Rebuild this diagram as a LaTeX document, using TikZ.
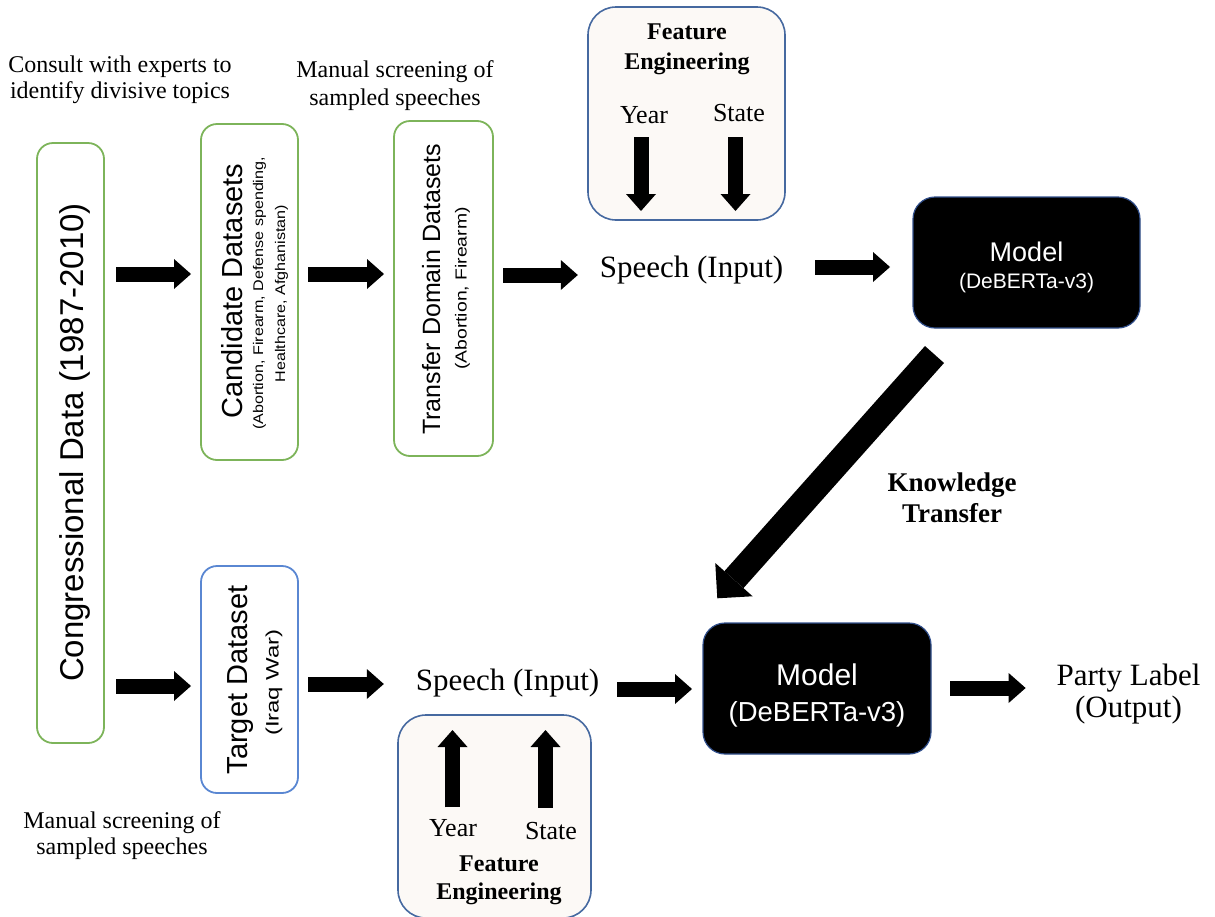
\documentclass[tikz,border=0pt]{standalone}
\usepackage{fontspec}
\setmainfont{Liberation Serif}
\setsansfont{Liberation Sans}
\usetikzlibrary{arrows.meta,calc}
\definecolor{gborder}{RGB}{125,180,90}
\definecolor{bborder}{RGB}{90,135,210}
\definecolor{feborder}{RGB}{70,105,160}
\definecolor{fefill}{RGB}{252,249,246}
\definecolor{mborder}{RGB}{50,80,140}
\begin{document}
\begin{tikzpicture}[x=1pt,y=-1pt,
  gbox/.style={draw=gborder, line width=1.8pt, rounded corners=16pt, inner sep=0pt, outer sep=0pt},
  bbox/.style={draw=bborder, line width=1.8pt, rounded corners=16pt, inner sep=0pt, outer sep=0pt},
  febox/.style={draw=feborder, fill=fefill, line width=1.6pt, rounded corners=28pt, inner sep=0pt, outer sep=0pt},
  mbox/.style={draw=mborder, fill=black, line width=1.2pt, rounded corners=22pt, inner sep=0pt, outer sep=0pt},
  txt/.style={inner sep=0pt, outer sep=0pt},
  rtxt/.style={inner sep=0pt, outer sep=0pt, rotate=90},
  serif24/.style={font=\fontsize{24}{26}\selectfont, align=center},
  hblk/.style={line width=15pt, -{Triangle[length=17pt,width=30pt,line width=0pt]}},
  dblk/.style={line width=25.5pt, -{Triangle[length=25pt,width=50pt,line width=0pt]}}
]
\useasboundingbox (0,0) rectangle (1215,916);

% ---------- boxes ----------
\node[gbox, minimum width=67pt, minimum height=600pt] (cong) at (70.5,443) {};
\node[gbox, minimum width=97pt, minimum height=336pt] (cand) at (249.5,292) {};
\node[gbox, minimum width=99pt, minimum height=335pt] (trans) at (443.5,288.5) {};
\node[bbox, minimum width=97pt, minimum height=227pt] (tgt) at (249.5,679.5) {};
\node[febox, minimum width=197pt, minimum height=213pt] (fetop) at (686.5,113.5) {};
\node[febox, minimum width=193pt, minimum height=203pt] (febot) at (494.5,816.5) {};
\node[mbox, minimum width=227pt, minimum height=131pt] (mtop) at (1026.5,262.5) {};
\node[mbox, minimum width=228pt, minimum height=131pt] (mbot) at (817,688.5) {};

% ---------- rotated texts ----------
\node[rtxt, anchor=base, font=\sffamily\fontsize{33}{40}\selectfont] (congt) at (83,442.5) {Congressional Data (1987-2010)};
\node[rtxt, anchor=base, font=\sffamily\fontsize{29}{34}\selectfont] (candt) at (242,291) {Candidate Datasets};
\node[rtxt, anchor=center, align=center, font=\sffamily\fontsize{14}{22}\selectfont] (cands) at (270.5,293.5)
  {\scalebox{1.15}[1]{(Abortion, Firearm, Defense spending,}\\\scalebox{1.15}[1]{Healthcare, Afghanistan)}};
\node[rtxt, anchor=base, font=\sffamily\fontsize{25}{30}\selectfont] (transt) at (440,289.5) {Transfer Domain Datasets};
\node[rtxt, anchor=base, font=\sffamily\fontsize{16}{20}\selectfont] (transs) at (466.6,288.5) {\scalebox{1.21}[1]{(Abortion, Firearm)}};
\node[rtxt, anchor=base, font=\sffamily\fontsize{29}{34}\selectfont] (tgtt) at (247,680) {Target Dataset};
\node[rtxt, anchor=base, font=\sffamily\fontsize{18}{22}\selectfont] (tgts) at (278.5,682.5) {\scalebox{1.33}[1]{(Iraq War)}};

% ---------- model texts ----------
\node[txt, anchor=base, text=white, font=\sffamily\fontsize{27}{30}\selectfont] (mtopa) at (1026.5,261.7) {Model};
\node[txt, anchor=base, text=white, font=\sffamily\fontsize{21}{24}\selectfont] (mtopb) at (1026.5,288) {(DeBERTa-v3)};
\node[txt, anchor=base, text=white, font=\sffamily\fontsize{30}{34}\selectfont] (mbota) at (817,685) {Model};
\node[txt, anchor=base, text=white, font=\sffamily\fontsize{27.5}{32}\selectfont] (mbotb) at (817,721.7) {(DeBERTa-v3)};

% ---------- serif labels ----------
\node[txt, serif24] (consult) at (120,79.4) {Consult with experts to\\identify divisive topics};
\node[txt, align=center, font=\fontsize{24}{28}\selectfont] (man1) at (395,85.4) {Manual screening of\\sampled speeches};
\node[txt, serif24] (man2) at (122,835.4) {Manual screening of\\sampled speeches};
\node[txt, anchor=base, font=\fontsize{31}{34}\selectfont] (sp1) at (691.5,277) {Speech (Input)};
\node[txt, anchor=base, font=\fontsize{31}{34}\selectfont] (sp2) at (507.5,690.5) {Speech (Input)};
\node[txt, align=center, font=\fontsize{31}{32}\selectfont] (party) at (1128.5,693.8) {Party Label\\(Output)};
\node[txt, align=center, font=\bfseries\fontsize{27}{31}\selectfont] (kt) at (952,498.2) {Knowledge\\Transfer};

% feature engineering texts
\node[txt, align=center, font=\bfseries\fontsize{24}{30}\selectfont] (fet) at (687,49.7) {Feature\\Engineering};
\node[txt, anchor=base, font=\fontsize{26}{30}\selectfont] (yr1) at (644,123) {Year};
\node[txt, anchor=base, font=\fontsize{26}{30}\selectfont] (st1) at (739,121) {State};
\node[txt, align=center, font=\bfseries\fontsize{24}{28}\selectfont] (feb) at (499,880.7) {Feature\\Engineering};
\node[txt, anchor=base, font=\fontsize{26}{30}\selectfont] (yr2) at (453,836.5) {Year};
\node[txt, anchor=base, font=\fontsize{26}{30}\selectfont] (st2) at (551,839) {State};

% ---------- row coordinates ----------
\coordinate (r1) at (0,274);
\coordinate (r3) at (0,275);
\coordinate (r4) at (0,267);
\coordinate (r5) at (0,686);
\coordinate (r6) at (0,684);
\coordinate (r7) at (0,689);
\coordinate (r8) at (0,688);
\coordinate (y1tip) at (641,211);
\coordinate (s1tip) at (735.5,211);
\coordinate (y2tip) at (452.5,730);
\coordinate (s2tip) at (545.5,730);

% ---------- block arrows ----------
\draw[hblk, shorten <=12pt, shorten >=10pt] (cong.east |- r1) -- (cand.west |- r1);
\draw[hblk, shorten <=10pt, shorten >=10pt] (cand.east |- r1) -- (trans.west |- r1);
\draw[hblk, shorten <=10pt, shorten >=22pt] (trans.east |- r3) -- (sp1.west |- r3);
\draw[hblk, shorten <=32pt, shorten >=23pt] (sp1.east |- r4) -- (mtop.west |- r4);
\draw[hblk, shorten <=12pt, shorten >=10pt] (cong.east |- r5) -- (tgt.west |- r5);
\draw[hblk, shorten <=10pt, shorten >=32pt] (tgt.east |- r6) -- (sp2.west |- r6);
\draw[hblk, shorten <=18pt, shorten >=11pt] (sp2.east |- r7) -- (mbot.west |- r7);
\draw[hblk, shorten <=19pt, shorten >=31pt] (mbot.east |- r8) -- (party.west |- r8);

% feature arrows
\draw[hblk, shorten <=14pt] (yr1.south -| y1tip) -- (y1tip);
\draw[hblk, shorten <=16pt] (st1.south -| s1tip) -- (s1tip);
\draw[hblk, shorten <=12pt] (yr2.north -| y2tip) -- (y2tip);
\draw[hblk, shorten <=14pt] (st2.north -| s2tip) -- (s2tip);

% knowledge transfer arrow
\draw[dblk] ($(mtop.south west)+(21.5,26.5)$) -- ($(mbot.north west)+(14.3,-24.7)$);
\end{tikzpicture}
\end{document}
